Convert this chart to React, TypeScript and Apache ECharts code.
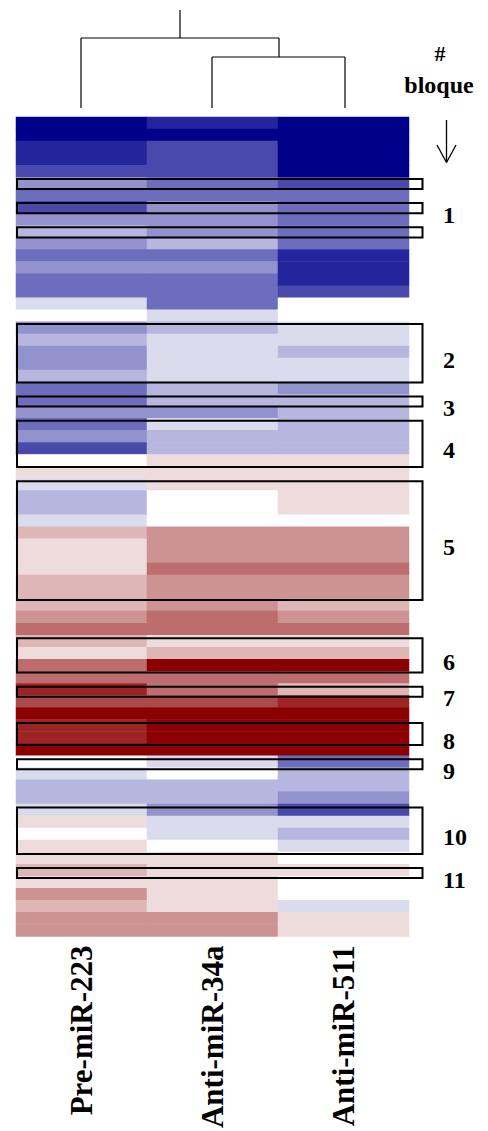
import React, { useEffect, useRef } from "react";
import * as echarts from "echarts";

const columns = ["Pre-miR-223", "Anti-miR-34a", "Anti-miR-511"];

// expression level per gene row (-7 strong blue ... 0 white ... +7 strong red)
const preMiR223 = [
  -7, -7, -6, -6, -5, -3, -4, -5, -3, -2, -3, -4, -3, -4, -4, -1, 0, -3, -2, -3,
  -3, -2, -4, -4, -3, -4, -3, -5, 0, 1, -1, -2, -2, -1, 2, 1, 1, 1, 2, 2,
  2, 3, 4, 2, 1, 4, 4, 6, 5, 7, 6, 6, 7, 0, -1, -2, -2, -1, 1, 0,
  1, 1, 2, 1, 3, 2, 3, 3,
];
const antiMiR34a = [
  -6, -7, -5, -5, -5, -4, -4, -3, -3, -3, -2, -4, -3, -4, -4, -4, -1, -2, -1, -1,
  -1, -1, -2, -2, -3, -1, -2, -2, 1, 1, 1, 0, 0, 0, 3, 3, 3, 4, 3, 3,
  3, 4, 4, 1, 2, 7, 4, 4, 5, 7, 7, 7, 7, -1, 0, -2, -2, -3, -1, -1,
  0, 1, 1, 1, 1, 1, 3, 3,
];
const antiMiR511 = [
  -7, -7, -7, -7, -7, -5, -4, -4, -4, -4, -4, -6, -6, -6, -5, 0, 0, -1, -1, -2,
  -1, -1, -3, -2, -2, -2, -2, -2, 1, 1, 1, 1, 1, 0, 3, 3, 3, 4, 3, 3,
  2, 3, 4, 1, 2, 7, 4, 2, 6, 7, 7, 7, 7, -4, -2, -2, -3, -5, -1, -2,
  -1, 0, 1, 0, 0, -1, 1, 1,
];

const blockLabels = ["1", "2", "3", "4", "5", "6", "7", "8", "9", "10", "11"];
// row ranges [first, last] of each outlined block
const blockRanges: number[][][] = [
  [[5, 5], [7, 7], [9, 9]],
  [[17, 21]],
  [[23, 23]],
  [[25, 28]],
  [[30, 39]],
  [[43, 45]],
  [[47, 47]],
  [[50, 51]],
  [[53, 53]],
  [[57, 60]],
  [[62, 62]],
];

const W = 488;
const H = 1131;
const GRID_LEFT = 16;
const GRID_RIGHT_X = 409;
const GRID_TOP = 117;
const GRID_BOTTOM_Y = 939;
const FONT = "'Liberation Serif', 'Times New Roman', serif";

export default function App() {
  const ref = useRef<HTMLDivElement>(null);

  useEffect(() => {
    if (!ref.current) return;
    const chart = echarts.init(ref.current, null, { renderer: "svg" });
    const series = [preMiR223, antiMiR34a, antiMiR511];
    const nRows = preMiR223.length;
    const rowNames = preMiR223.map((_, i) => "g" + (i + 1));
    const data: number[][] = [];
    series.forEach((col, ci) => col.forEach((v, ri) => data.push([ci, ri, v])));

    const rowH = (GRID_BOTTOM_Y - GRID_TOP) / nRows;
    const rowY = (r: number) => GRID_TOP + r * rowH;

    const graphics: any[] = [];
    const line = (x1: number, y1: number, x2: number, y2: number, w = 1.2) => ({
      type: "line",
      z: 100,
      shape: { x1, y1, x2, y2 },
      style: { stroke: "#000", lineWidth: w },
      silent: true,
    });
    // dendrogram
    graphics.push(line(180, 10, 180, 38));
    graphics.push(line(81, 38, 279, 38));
    graphics.push(line(81, 38, 81, 108));
    graphics.push(line(279, 38, 279, 57));
    graphics.push(line(212, 57, 345, 57));
    graphics.push(line(212, 57, 212, 108));
    graphics.push(line(345, 57, 345, 108));
    // arrow
    graphics.push(line(446.5, 120, 446.5, 162, 1.3));
    graphics.push(line(437, 145, 446.5, 162.5, 1.3));
    graphics.push(line(456, 145, 446.5, 162.5, 1.3));
    // header
    graphics.push({
      type: "text",
      z: 100,
      x: 440,
      y: 53,
      style: { text: "#", font: `bold 22px ${FONT}`, fill: "#000", align: "center", verticalAlign: "middle" },
    });
    graphics.push({
      type: "text",
      z: 100,
      x: 439,
      y: 85,
      style: { text: "bloque", font: `bold 24px ${FONT}`, fill: "#000", align: "center", verticalAlign: "middle" },
    });
    // block boxes + labels
    blockRanges.forEach((ranges, bi) => {
      ranges.forEach(([s, e]) => {
        const y0 = rowY(s) + 1.5;
        const y1 = rowY(e + 1) - 0.5;
        graphics.push({
          type: "rect",
          z: 100,
          shape: { x: 17, y: y0, width: 405.5, height: y1 - y0 },
          style: { fill: "transparent", stroke: "#000", lineWidth: 2 },
          silent: true,
        });
      });
      const first = ranges[0][0];
      const last = ranges[ranges.length - 1][1];
      const cy = (rowY(first) + rowY(last + 1)) / 2 + 7;
      graphics.push({
        type: "text",
        z: 100,
        x: 443,
        y: cy,
        style: {
          text: blockLabels[bi],
          font: `bold 24px ${FONT}`,
          fill: "#000",
          align: "left",
          verticalAlign: "middle",
        },
      });
    });

    chart.setOption({
      animation: false,
      backgroundColor: "#fff",
      grid: {
        left: GRID_LEFT,
        right: W - GRID_RIGHT_X,
        top: GRID_TOP,
        bottom: H - GRID_BOTTOM_Y,
        containLabel: false,
      },
      xAxis: {
        type: "category",
        data: columns,
        position: "bottom",
        axisLine: { show: false },
        axisTick: { show: false },
        splitLine: { show: false },
        axisLabel: {
          rotate: 90,
          margin: 9,
          fontSize: 31,
          fontWeight: "bold",
          fontFamily: FONT,
          color: "#000",
          interval: 0,
        },
      },
      yAxis: {
        type: "category",
        data: rowNames,
        inverse: true,
        show: false,
      },
      visualMap: {
        show: false,
        type: "continuous",
        min: -7,
        max: 7,
        dimension: 2,
        inRange: { color: ["#00008B", "#FFFFFF", "#8B0000"] },
      },
      series: [
        {
          type: "heatmap",
          data,
          itemStyle: { borderWidth: 0 },
          emphasis: { disabled: true },
          silent: true,
        },
      ],
      graphic: graphics,
    });
    return () => chart.dispose();
  }, []);

  return (
    <div
      ref={ref}
      style={{ position: "absolute", left: 0, top: 0, width: W, height: H, background: "#fff" }}
    />
  );
}
